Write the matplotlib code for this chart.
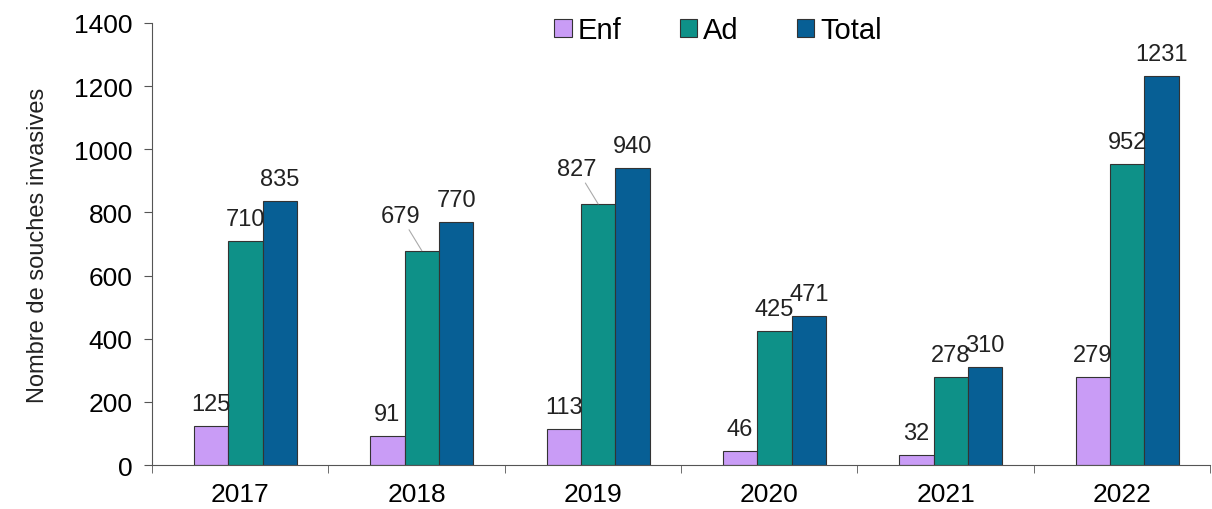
import numpy as np
import matplotlib.pyplot as plt

plt.rcParams['font.family'] = ['Liberation Sans', 'DejaVu Sans']

years = ['2017', '2018', '2019', '2020', '2021', '2022']
enf = [125, 91, 113, 46, 32, 279]
ad = [710, 679, 827, 425, 278, 952]
total = [835, 770, 940, 471, 310, 1231]

series = [('Enf', enf, '#c99cf6'), ('Ad', ad, '#0e9188'), ('Total', total, '#075f95')]

fig = plt.figure(figsize=(12.12, 5.10), dpi=100)
ax = fig.add_axes([0.1254, 0.086, 0.873, 0.867])

x = np.arange(len(years))
w = 0.195
for i, (name, vals, col) in enumerate(series):
    pos = x + (i - 1) * w + 0.03
    ax.bar(pos, vals, w, color=col, edgecolor='#333333', linewidth=0.8, label=name)
    for j, v in enumerate(vals):
        if name == 'Ad' and j in (1, 2):
            # label pushed up-left with a leader line
            ax.annotate(str(v), xy=(pos[j], v), xytext=(pos[j] - 0.12, v + 75),
                        ha='center', va='bottom', fontsize=17, color='#222222',
                        arrowprops=dict(arrowstyle='-', color='#aaaaaa', lw=0.8,
                                        shrinkA=0, shrinkB=0))
            continue
        ax.text(pos[j], v + 35, str(v), ha='center', va='bottom',
                fontsize=17, color='#222222')

ax.set_xlim(-0.5, 5.5)
ax.set_ylim(0, 1400)
ax.set_yticks(range(0, 1401, 200))
ax.set_xticks(x)
ax.set_xticklabels(years)
ax.set_xticks(np.arange(-0.5, 5.6, 1), minor=True)
ax.tick_params(axis='x', which='major', length=0, labelsize=19, pad=12)
ax.tick_params(axis='x', which='minor', length=6, color='#555555')
ax.tick_params(axis='y', labelsize=19, length=6, color='#555555', pad=8)
ax.set_ylabel('Nombre de souches invasives', fontsize=17, labelpad=18, color='#222222')

for s in ('top', 'right'):
    ax.spines[s].set_visible(False)
for s in ('left', 'bottom'):
    ax.spines[s].set_color('#555555')

ax.legend(loc='upper center', bbox_to_anchor=(0.535, 1.075), ncol=3, frameon=False,
          fontsize=21, handlelength=0.6, handleheight=0.6, handletextpad=0.2,
          columnspacing=2.0)

fig.savefig('out.png', dpi=100)
